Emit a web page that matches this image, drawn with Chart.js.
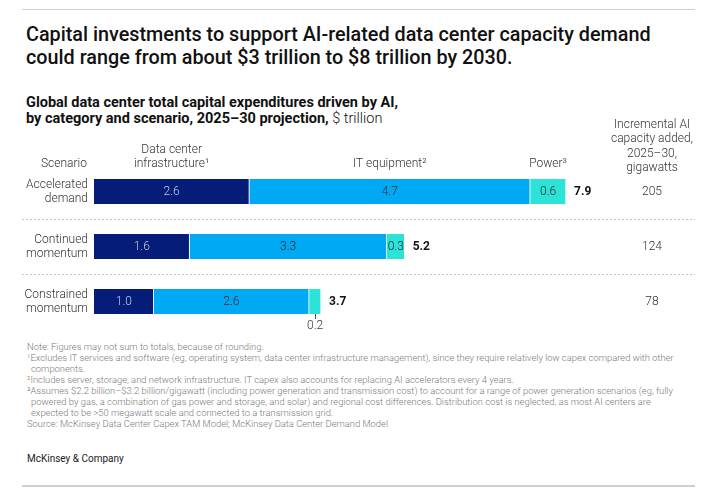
<!DOCTYPE html>
<html>
<head>
<meta charset="utf-8">
<script src="https://cdn.jsdelivr.net/npm/chart.js@4"></script>
<style>
  html, body { margin: 0; padding: 0; background: #fff; }
  body { width: 712px; height: 495px; position: relative; overflow: hidden; font-family: Roboto, "Noto Sans", sans-serif; }
  .rule { position: absolute; left: 22px; width: 673px; background: #cfcfcf; }
  #title { position: absolute; left: 26px; top: 23px; font-size: 19.8px; line-height: 23px; font-weight: 500; color: #111; white-space: nowrap; }
  #subtitle { position: absolute; left: 26px; top: 95px; font-size: 14.5px; line-height: 16px; font-weight: 700; color: #111; white-space: nowrap; }
  #subtitle span { font-weight: 300; }
  #chartBox { position: absolute; left: 0; top: 110px; width: 712px; height: 230px; }
  #notes { position: absolute; left: 27px; top: 341px; font-size: 9.4px; line-height: 11px; color: #7a7a7a; white-space: nowrap; font-weight: 300; }
  #notes .cont { padding-left: 4px; }
  #brand { position: absolute; left: 27px; top: 453px; font-size: 10px; color: #222; }
</style>
</head>
<body>
<div class="rule" style="top:9px;height:1px;"></div>
<div id="title">Capital investments to support AI-related data center capacity demand<br>could range from about $3 trillion to $8 trillion by 2030.</div>
<div id="subtitle">Global data center total capital expenditures driven by AI,<br>by category and scenario, 2025–30 projection, <span>$ trillion</span></div>
<div id="chartBox"><canvas id="capexChart" width="712" height="230"></canvas></div>
<div id="notes">
  <div>Note: Figures may not sum to totals, because of rounding.</div>
  <div>¹Excludes IT services and software (eg, operating system, data center infrastructure management), since they require relatively low capex compared with other</div>
  <div class="cont">components.</div>
  <div>²Includes server, storage, and network infrastructure. IT capex also accounts for replacing AI accelerators every 4 years.</div>
  <div>³Assumes $2.2 billion–$3.2 billion/gigawatt (including power generation and transmission cost) to account for a range of power generation scenarios (eg, fully</div>
  <div class="cont">powered by gas, a combination of gas power and storage, and solar) and regional cost differences. Distribution cost is neglected, as most AI centers are</div>
  <div class="cont">expected to be &gt;50 megawatt scale and connected to a transmission grid.</div>
  <div>Source: McKinsey Data Center Capex TAM Model; McKinsey Data Center Demand Model</div>
</div>
<div id="brand">McKinsey &amp; Company</div>
<div class="rule" style="top:485px;height:2px;"></div>

<script>
const scenarios = [['Accelerated', 'demand'], ['Continued', 'momentum'], ['Constrained', 'momentum']];
const infrastructure = [2.6, 1.6, 1.0];
const itEquipment = [4.7, 3.3, 2.6];
const power = [0.6, 0.3, 0.2];
const totals = [7.9, 5.2, 3.7];
const gigawatts = [205, 124, 78];
const segmentHeaders = [['Data center', 'infrastructure¹'], ['IT equipment²'], ['Power³']];
const capacityHeader = ['Incremental AI', 'capacity added,', '2025–30,', 'gigawatts'];

const colors = ['#051d78', '#00a9f4', '#2be3d6'];
const labelColors = ['#c6cbe8', '#2b2b2b', '#2b2b2b'];
const FONT = 'Roboto, "Noto Sans", sans-serif';

document.addEventListener('DOMContentLoaded', () => {
    initializeChart();
});

const annotations = {
    id: 'annotations',
    afterDatasetsDraw(chart) {
        const ctx = chart.ctx;
        const yScale = chart.scales.y;
        const metas = chart.data.datasets.map((d, i) => chart.getDatasetMeta(i));
        ctx.save();

        // dotted separators between scenarios
        ctx.strokeStyle = '#c4c4c4';
        ctx.lineWidth = 1;
        ctx.setLineDash([2, 2]);
        for (let i = 0; i < scenarios.length - 1; i++) {
            const y = Math.round((yScale.getPixelForValue(i) + yScale.getPixelForValue(i + 1)) / 2) + 0.5;
            ctx.beginPath();
            ctx.moveTo(22, y);
            ctx.lineTo(695, y);
            ctx.stroke();
        }
        ctx.setLineDash([]);

        // column headers
        ctx.fillStyle = '#333';
        ctx.font = `300 12px ${FONT}`;
        ctx.textAlign = 'center';
        ctx.textBaseline = 'alphabetic';
        ctx.fillText('Scenario', 64, 57);
        segmentHeaders.forEach((lines, d) => {
            const el = metas[d].data[0];
            const cx = (el.x + el.base) / 2;
            lines.forEach((t, k) => ctx.fillText(t, cx, 57 - (lines.length - 1 - k) * 14));
        });
        capacityHeader.forEach((t, k) => ctx.fillText(t, 652, 18 + k * 14.3));

        scenarios.forEach((lines, i) => {
            const cy = yScale.getPixelForValue(i);

            // scenario names
            ctx.fillStyle = '#333';
            ctx.font = `300 12px ${FONT}`;
            ctx.textAlign = 'right';
            ctx.textBaseline = 'middle';
            ctx.fillText(lines[0], 88, cy - 7);
            ctx.fillText(lines[1], 88, cy + 7.5);

            // segment values, small ones go below the bar
            metas.forEach((meta, d) => {
                const el = meta.data[i];
                const cx = (el.x + el.base) / 2;
                const value = chart.data.datasets[d].data[i].toFixed(1);
                ctx.textAlign = 'center';
                ctx.font = `300 12px ${FONT}`;
                if (Math.abs(el.x - el.base) < 15) {
                    const bottom = cy + el.height / 2;
                    ctx.strokeStyle = '#555';
                    ctx.beginPath();
                    ctx.moveTo(Math.round(cx) + 0.5, bottom);
                    ctx.lineTo(Math.round(cx) + 0.5, bottom + 5);
                    ctx.stroke();
                    ctx.fillStyle = '#333';
                    ctx.fillText(value, cx, bottom + 12);
                } else {
                    ctx.fillStyle = labelColors[d];
                    ctx.fillText(value, cx, cy + 0.5);
                }
            });

            // totals
            const last = metas[metas.length - 1].data[i];
            ctx.fillStyle = '#111';
            ctx.font = `700 12px ${FONT}`;
            ctx.textAlign = 'left';
            ctx.fillText(totals[i].toFixed(1), last.x + 8, cy + 0.5);

            // gigawatts
            ctx.fillStyle = '#333';
            ctx.font = `300 12px ${FONT}`;
            ctx.textAlign = 'center';
            ctx.fillText(String(gigawatts[i]), 652, cy + 0.5);
        });
        ctx.restore();
    }
};

function initializeChart() {
    const ctx = document.getElementById('capexChart').getContext('2d');
    const series = [infrastructure, itEquipment, power];
    new Chart(ctx, {
        type: 'bar',
        data: {
            labels: scenarios.map(s => s.join(' ')),
            datasets: series.map((data, i) => ({
                label: segmentHeaders[i].join(' '),
                data: data,
                backgroundColor: colors[i],
                borderColor: '#ffffff',
                borderWidth: { top: 0, bottom: 0, left: 0, right: 1 },
                borderSkipped: false,
                barThickness: 25
            }))
        },
        plugins: [annotations],
        options: {
            indexAxis: 'y',
            responsive: false,
            animation: false,
            layout: { padding: { left: 94, right: 20.5, top: 54, bottom: 11 } },
            scales: {
                x: { stacked: true, min: 0, max: 10, display: false },
                y: { stacked: true, display: false }
            },
            plugins: {
                legend: { display: false },
                tooltip: { enabled: false }
            }
        }
    });
}
</script>
</body>
</html>
